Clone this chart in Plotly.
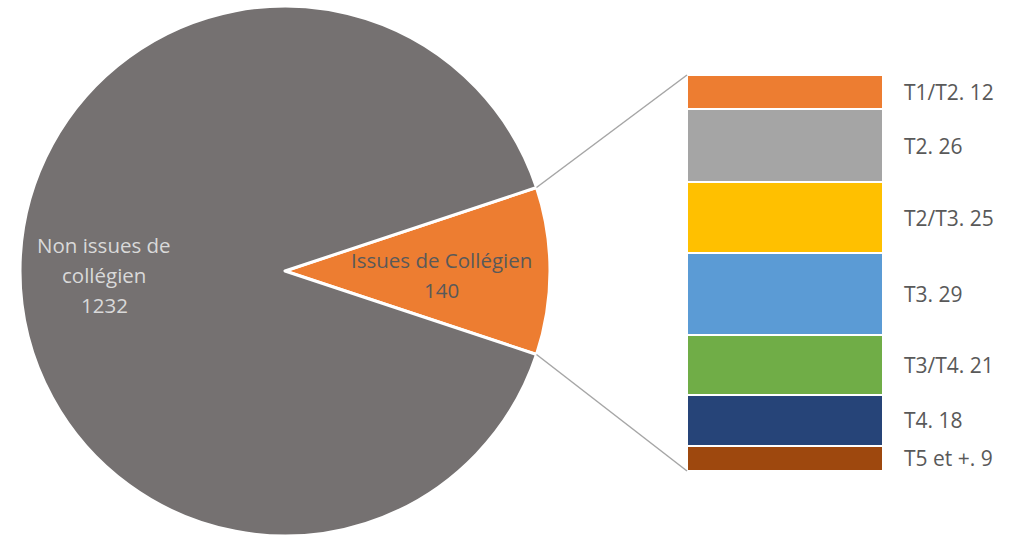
import math
import plotly.graph_objects as go

# data
pie_labels = ["Issues de Collégien", "Non issues de collégien"]
pie_values = [140, 1232]
pie_colors = ["#ED7D31", "#757171"]

bar_labels = ["T1/T2", "T2", "T2/T3", "T3", "T3/T4", "T4", "T5 et +"]
bar_values = [12, 26, 25, 29, 21, 18, 9]
bar_colors = ["#ED7D31", "#A5A5A5", "#FFC000", "#5B9BD5", "#70AD47", "#264478", "#9E480E"]

W, H = 1015, 536
FONT = "Open Sans"

# pie geometry (pixels)
cx, cy, r = 285, 271, 265
pie_dom_x = [(cx - r) / W, (cx + r) / W]
pie_dom_y = [1 - (cy + r) / H, 1 - (cy - r) / H]

# bar geometry (pixels)
bx0, bx1, by0, by1 = 687, 883, 75, 471
bar_dom_x = [bx0 / W, bx1 / W]
bar_dom_y = [1 - by1 / H, 1 - by0 / H]

half = 360 * pie_values[0] / sum(pie_values) / 2

fig = go.Figure()

fig.add_trace(go.Pie(
    labels=pie_labels,
    values=pie_values,
    marker=dict(colors=pie_colors, line=dict(color="white", width=3)),
    sort=False,
    direction="clockwise",
    rotation=90 - half,
    textinfo="none",
    hoverinfo="label+value",
    domain=dict(x=pie_dom_x, y=pie_dom_y),
    showlegend=False,
))

for lab, val, col in zip(bar_labels, bar_values, bar_colors):
    fig.add_trace(go.Bar(
        x=["Issues"],
        y=[val],
        name=lab,
        marker=dict(color=col, line=dict(color="white", width=2)),
        width=1,
        showlegend=False,
        hovertemplate=f"{lab}: {val}<extra></extra>",
    ))

# bar labels
annotations = []
cum = 0
for lab, val in zip(bar_labels, bar_values):
    annotations.append(dict(
        x=902 / W, xref="paper", xanchor="left",
        y=cum + val / 2, yref="y", yanchor="middle",
        text=f"{lab}. {val}", showarrow=False,
        font=dict(family=FONT, size=21, color="#595959"),
    ))
    cum += val

# pie labels, one annotation per line to get the wider line spacing
def pie_label(lines, x, y_mid, color):
    n = len(lines)
    for i, line in enumerate(lines):
        y = y_mid + (i - (n - 1) / 2) * 30
        annotations.append(dict(
            x=x / W, y=1 - y / H, xref="paper", yref="paper",
            xanchor="center", yanchor="middle",
            text=line, showarrow=False,
            font=dict(family=FONT, size=20.5, color=color),
        ))

pie_label(["Non issues de", "collégien", str(pie_values[1])], 104, 275, "#D9D9D9")
pie_label([pie_labels[0], str(pie_values[0])], 441, 275, "#595959")

# connector lines from slice edges to bar corners
a = math.radians(half)
ex = cx + r * math.cos(a)
ey_top = cy - r * math.sin(a)
ey_bot = cy + r * math.sin(a)
shapes = [
    dict(type="line", xref="paper", yref="paper",
         x0=ex / W, y0=1 - ey_top / H, x1=bx0 / W, y1=1 - by0 / H,
         line=dict(color="#A6A6A6", width=1.5)),
    dict(type="line", xref="paper", yref="paper",
         x0=ex / W, y0=1 - ey_bot / H, x1=bx0 / W, y1=1 - by1 / H,
         line=dict(color="#A6A6A6", width=1.5)),
]

fig.update_layout(
    width=W, height=H,
    margin=dict(l=0, r=0, t=0, b=0),
    paper_bgcolor="white",
    plot_bgcolor="white",
    barmode="stack",
    bargap=0,
    xaxis=dict(domain=bar_dom_x, visible=False, range=[-0.5, 0.5]),
    yaxis=dict(domain=bar_dom_y, visible=False, range=[sum(bar_values), 0]),
    annotations=annotations,
    shapes=shapes,
    font=dict(family=FONT),
)

# drop the default 8px body margin so the figure sits at the window origin
fig.write_html("out.html", config={"displayModeBar": False},
               post_script="document.body.style.margin='0';")
